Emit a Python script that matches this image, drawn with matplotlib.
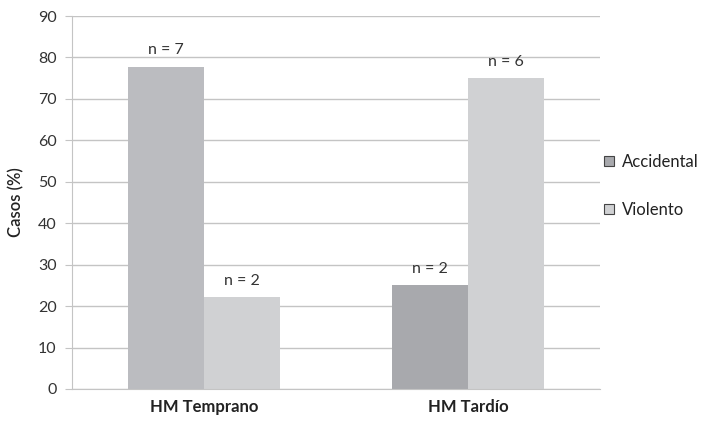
import numpy as np
import matplotlib.pyplot as plt
from matplotlib.patches import Patch

categories = ['HM Temprano', 'HM Tardío']
accidental = [77.8, 25.0]
violento = [22.2, 75.0]
n_accidental = ['n = 7', 'n = 2']
n_violento = ['n = 2', 'n = 6']
yticks = [0, 10, 20, 30, 40, 50, 60, 70, 80, 90]

plt.rcParams['font.family'] = ['Lato', 'DejaVu Sans']

fig = plt.figure(figsize=(7.14, 4.22), dpi=100)
ax = fig.add_axes([0.1008, 0.0782, 0.7392, 0.8838])

x = np.arange(len(categories))
w = 0.288
# the first group's accidental bar is a lighter grey in the original figure
acc_colors = ['#bbbcc0', '#a8a9ad']
b1 = ax.bar(x - w / 2, accidental, w, color=acc_colors, zorder=2)
b2 = ax.bar(x + w / 2, violento, w, color='#d0d1d3', zorder=2)

for bars, labels in ((b1, n_accidental), (b2, n_violento)):
    for b, lab in zip(bars, labels):
        ax.text(b.get_x() + b.get_width() / 2, b.get_height() + 2.2, lab,
                ha='center', va='bottom', fontsize=11.5, color='#333333')

ax.set_xlim(-0.5, 1.5)
ax.set_ylim(0, 90)
ax.set_yticks(yticks)
ax.set_yticklabels([str(t) for t in yticks], fontsize=11.5, color='#333333')
ax.set_xticks(x)
ax.set_xticklabels(categories, fontsize=12, fontweight='bold', color='#222222')
ax.set_ylabel('Casos (%)', fontsize=12, fontweight='semibold', color='#222222',
              labelpad=10)

ax.yaxis.grid(True, color='#c4c4c4', linewidth=1.0, zorder=0)
ax.set_axisbelow(True)
for side in ('top', 'right'):
    ax.spines[side].set_visible(False)
for side in ('left', 'bottom'):
    ax.spines[side].set_color('#c4c4c4')
ax.tick_params(axis='y', length=5, color='#c4c4c4', pad=6)
ax.tick_params(axis='x', length=0, pad=7)

handles = [Patch(facecolor='#a8a9ad', edgecolor='#444444', linewidth=0.8),
           Patch(facecolor='#d0d1d3', edgecolor='#444444', linewidth=0.8)]
fig.legend(handles, ['Accidental', 'Violento'], loc='upper left',
           bbox_to_anchor=(0.846, 0.635), frameon=False, fontsize=12,
           borderpad=0, borderaxespad=0,
           handlelength=0.6, handleheight=0.6, handletextpad=0.45,
           labelspacing=1.9, labelcolor='#222222')

fig.savefig('out.png', dpi=100)
